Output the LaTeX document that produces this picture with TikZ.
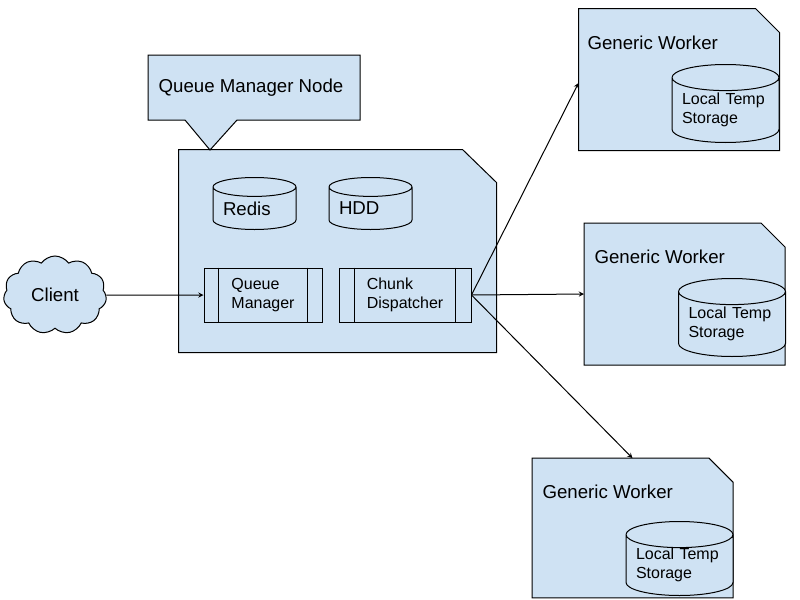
\documentclass[tikz,border=0pt]{standalone}
\usepackage{fontspec}
\setmainfont{Liberation Sans}
\usetikzlibrary{arrows,arrows.meta,calc,positioning,shapes.geometric,shapes.symbols}
\definecolor{paleblue}{HTML}{CFE2F3}

\begin{document}
\begin{tikzpicture}[x=0.75pt,y=0.75pt,yscale=-1,xscale=1,line width=0.75pt,
		bigtext/.style={font=\fontsize{14}{16}\selectfont},
		smalltext/.style={font=\fontsize{12}{14.25}\selectfont},
		frame/.style={rectangle, inner sep=0pt},
		store/.style={draw, fill=paleblue, cylinder, shape border rotate=90, aspect=0.3, inner sep=0pt, align=left, anchor=south},
		proc/.style={draw, fill=paleblue, rectangle, inner sep=0pt, minimum height=40.5pt, align=left, smalltext}]
		\useasboundingbox (0,0) rectangle (800,600);

		% queue manager node
		\node [frame, minimum width=237.75pt, minimum height=151.5pt] (qmn) at (337.5,251) {};
		\draw [fill=paleblue] (qmn.north west) -- ($(qmn.north east)+(-34,0)$) -- ($(qmn.north east)+(0,33)$) -- (qmn.south east) -- (qmn.south west) -- cycle;

		\draw [fill=paleblue] (148,55) -- (360,55) -- (360,120) -- (237,120) -- (210,150) -- (185,120) -- (148,120) -- cycle;
		\node [bigtext, inner sep=0pt] (note) at (251,88) {Queue Manager Node};

		\node [store, text width=47.25pt, minimum width=62.25pt, minimum height=39pt, bigtext] (redis) at (254.5,230) {Redis};
		\node [store, text width=47.25pt, minimum width=62.25pt, minimum height=39pt, bigtext] (hdd) at (370.5,230) {HDD};

		\node [proc, minimum width=88.5pt] (qm) at (263,295) {Queue\\Manager};
		\draw ([xshift=11.25pt]qm.north west) -- ([xshift=11.25pt]qm.south west);
		\draw ([xshift=-11.25pt]qm.north east) -- ([xshift=-11.25pt]qm.south east);
		\node [proc, minimum width=99pt] (cd) at (405,295) {Chunk\\Dispatcher};
		\draw ([xshift=12pt]cd.north west) -- ([xshift=12pt]cd.south west);
		\draw ([xshift=-12pt]cd.north east) -- ([xshift=-12pt]cd.south east);

		% client
		\node [cloud, draw, fill=paleblue, cloud puffs=11, cloud puff arc=110, aspect=1.3, inner sep=0pt, minimum width=77.25pt, minimum height=58.5pt, bigtext] (client) at (55,295) {Client};

		% workers
		\node [frame, minimum width=150pt, minimum height=105.75pt] (w1) at (679,79.5) {};
		\draw [fill=paleblue] (w1.north west) -- ($(w1.north east)+(-24,0)$) -- ($(w1.north east)+(0,24)$) -- (w1.south east) -- (w1.south west) -- cycle;
		\node [bigtext, inner sep=0pt, anchor=west] (w1name) at (587,43) {Generic Worker};
		\node [store, text width=65.25pt, minimum width=80.25pt, minimum height=58.5pt, smalltext] (t1) at (725.5,143) {Local Temp\\Storage};

		\node [frame, minimum width=150pt, minimum height=105.75pt] (w2) at (684.5,294) {};
		\draw [fill=paleblue] (w2.north west) -- ($(w2.north east)+(-24,0)$) -- ($(w2.north east)+(0,24)$) -- (w2.south east) -- (w2.south west) -- cycle;
		\node [bigtext, inner sep=0pt, anchor=west] (w2name) at (594,257) {Generic Worker};
		\node [store, text width=65.25pt, minimum width=80.25pt, minimum height=58.5pt, smalltext] (t2) at (732,357) {Local Temp\\Storage};

		\node [frame, minimum width=150pt, minimum height=104pt] (w3) at (632.5,528) {};
		\draw [fill=paleblue] (w3.north west) -- ($(w3.north east)+(-24,0)$) -- ($(w3.north east)+(0,24)$) -- (w3.south east) -- (w3.south west) -- cycle;
		\node [bigtext, inner sep=0pt, anchor=west] (w3name) at (542,492) {Generic Worker};
		\node [store, text width=65.25pt, minimum width=80.25pt, minimum height=55.5pt, smalltext] (t3) at (679.5,596) {Local Temp\\Storage};

		% connections
		\draw [-stealth] (client) -- (qm.west);
		\draw [-stealth] (cd.east) -- (w1.west |- 0,83);
		\draw [-stealth] (cd.east) -- (w2.west);
		\draw [-stealth] (cd.east) -- (w3.north);
		\end{tikzpicture}
\end{document}
